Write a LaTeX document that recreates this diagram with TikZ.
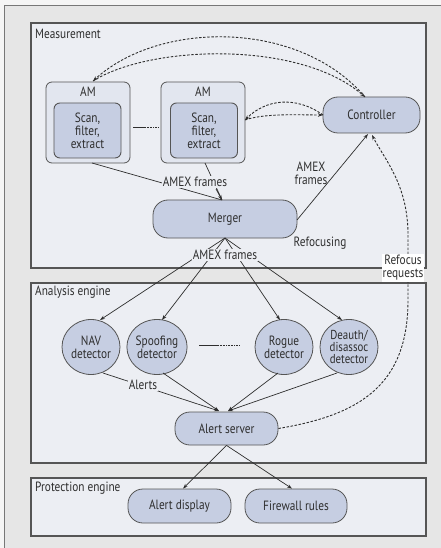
\documentclass[tikz,border=0pt]{standalone}
\usepackage{fontspec}
\setmainfont{PT Sans}[FakeStretch=0.84]
\usetikzlibrary{shapes.geometric,arrows.meta}
\definecolor{outerbg}{HTML}{E6E6E6}
\definecolor{secfill}{HTML}{ECEEF3}
\definecolor{nodefill}{HTML}{C6CEE2}
\definecolor{amfill}{HTML}{E2E6EF}
\definecolor{ink}{HTML}{2E2E2E}
\definecolor{edge}{HTML}{555555}
\tikzset{
  every node/.style={text=ink,font=\fontsize{13.5}{13.5}\selectfont},
  section/.style={draw=edge,line width=1.3bp,fill=secfill},
  pill/.style={draw=edge,line width=0.8bp,fill=nodefill,rounded corners=15bp,align=center,inner sep=0pt},
  amouter/.style={draw=edge,line width=0.8bp,fill=amfill,rounded corners=6bp,minimum width=84bp,minimum height=81bp,inner sep=0pt},
  aminner/.style={draw=edge,line width=0.9bp,fill=nodefill,rounded corners=6bp,minimum width=67bp,minimum height=55bp,align=center,inner sep=0pt,font=\fontsize{13.5}{13}\selectfont},
  det/.style={ellipse,draw=edge,line width=0.8bp,fill=nodefill,minimum width=58bp,minimum height=55bp,inner sep=0pt,align=center,font=\fontsize{13.5}{13}\selectfont},
  conn/.style={draw=ink,line width=0.7bp,-{Stealth[length=5bp,width=3.5bp]}},
  dconn/.style={draw=ink,line width=0.9bp,dash pattern=on 2.5bp off 1.6bp,-{Stealth[length=5bp,width=3.5bp]}},
  lbl/.style={fill=secfill,inner sep=1bp,align=center,font=\fontsize{13.5}{13}\selectfont},
  seclbl/.style={anchor=west,inner sep=0pt},
}
\begin{document}
\begin{tikzpicture}[x=1bp,y=-1bp]
\useasboundingbox (0,0) rectangle (441,548);
\fill[white!96!black] (0,0) rectangle (441,548);
\draw[fill=outerbg,draw=edge!80,line width=1bp] (4,6) rectangle (450,560);
% sections
\draw[section] (31,23) rectangle (426,268);
\draw[section] (31,283) rectangle (426,463);
\draw[section] (31,478) rectangle (426,536);
\node[seclbl] (lm) at (35,34) {Measurement};
\node[seclbl] (la) at (35,292) {Analysis engine};
\node[seclbl] (lp) at (35,488) {Protection engine};
% measurement
\node[amouter] (am1) at (88,122.5) {};
\node[anchor=north,inner sep=0pt] (am1t) at (88,87) {AM};
\node[aminner] (in1) at (87.5,130.5) {Scan,\\filter,\\extract};
\node[amouter] (am2) at (203,122.5) {};
\node[anchor=north,inner sep=0pt] (am2t) at (203,87) {AM};
\node[aminner] (in2) at (204,130.5) {Scan,\\filter,\\extract};
\coordinate (d1) at (133,127);
\coordinate (d2) at (145,127);
\coordinate (d3) at (158,127);
\draw[ink,line width=0.9bp] (d1) -- (d2);
\draw[ink,line width=0.9bp,dash pattern=on 0.8bp off 0.8bp] (d2) -- (d3);
\node[pill,minimum width=97bp,minimum height=36bp] (ctrl) at (371.5,115) {Controller};
\node[pill,minimum width=144bp,minimum height=38bp] (merger) at (225,219) {Merger};
% AM -> merger
\coordinate (m1) at (222,200);
\draw[ink,line width=0.7bp] (92,163) -- (m1);
\draw[ink,line width=0.7bp] (205,163) -- (m1);
\node[lbl] (amex1) at (195,182) {AMEX frames};
\draw[conn] (216,189) -- (m1);
% merger -> controller
\coordinate (mc1) at (297,220);
\coordinate (mc2) at (368,134);
\draw[conn] (mc1) -- (mc2);
\node[lbl,fill=none] (amex2) at (311,173) {AMEX\\frames};
\node[inner sep=0pt] (refoc) at (320,243) {Refocusing};
% dashed controller <-> AM1
\coordinate (a1top) at (93,81);
\coordinate (ctop) at (365,97);
\draw[dconn] (ctop) .. controls (300,20) and (160,20) .. (a1top);
\draw[dconn] (a1top) .. controls (150,45) and (300,40) .. (ctop);
% dashed controller <-> AM2
\coordinate (a2r) at (245,120);
\coordinate (cleft) at (323,115);
\draw[dconn] (cleft) .. controls (295,95) and (265,100) .. (a2r);
\draw[dconn] (a2r) .. controls (265,113) and (300,115) .. (cleft);
% merger -> detectors
\node[det] (nav) at (91,347) {NAV\\detector};
\node[det] (spoof) at (157,347) {Spoofing\\detector};
\node[det] (rogue) at (284,347) {Rogue\\detector};
\node[det,font=\fontsize{13}{12.3}\selectfont] (deauth) at (349,347) {Deauth/\\disassoc\\detector};
\coordinate (mb) at (225,238);
\draw[conn] (mb) -- (100,320);
\draw[conn] (mb) -- (162,320);
\draw[conn] (mb) -- (280,320);
\draw[conn] (mb) -- (342,320);
\node[lbl] (amex3) at (225,255) {AMEX frames};
\coordinate (e1) at (199,345);
\coordinate (e2) at (218,345);
\coordinate (e3) at (240,345);
\draw[ink,line width=0.9bp] (e1) -- (e2);
\draw[ink,line width=0.9bp,dash pattern=on 0.8bp off 0.8bp] (e2) -- (e3);
% alert server
\node[pill,minimum width=103bp,minimum height=33bp] (aserv) at (226.5,428.5) {Alert server};
\coordinate (as1) at (219,411);
\coordinate (as2) at (228,411);
\draw[conn] (103,373) -- (as1);
\draw[conn] (163,373) -- (as1);
\draw[conn] (278,373) -- (as2);
\draw[conn] (337,373) -- (as2);
\node[lbl] (alerts) at (143,385) {Alerts};
% refocus requests
\draw[dconn] (aserv.east) .. controls (360,415) and (408,385) .. (408,300) -- (408,235) .. controls (408,185) and (385,160) .. (372,135);
\node[fill=white,inner sep=1bp,align=center,font=\fontsize{13.5}{13}\selectfont] (rr) at (403,268) {Refocus\\requests};
% protection
\node[pill,minimum width=103bp,minimum height=34bp] (adisp) at (179.5,506) {Alert display};
\node[pill,minimum width=102bp,minimum height=34bp] (fw) at (296,506) {Firewall rules};
\draw[conn] (aserv.south) -- (adisp.north -| 183,0);
\draw[conn] (aserv.south) -- (fw.north -| 292,0);
\end{tikzpicture}
\end{document}
